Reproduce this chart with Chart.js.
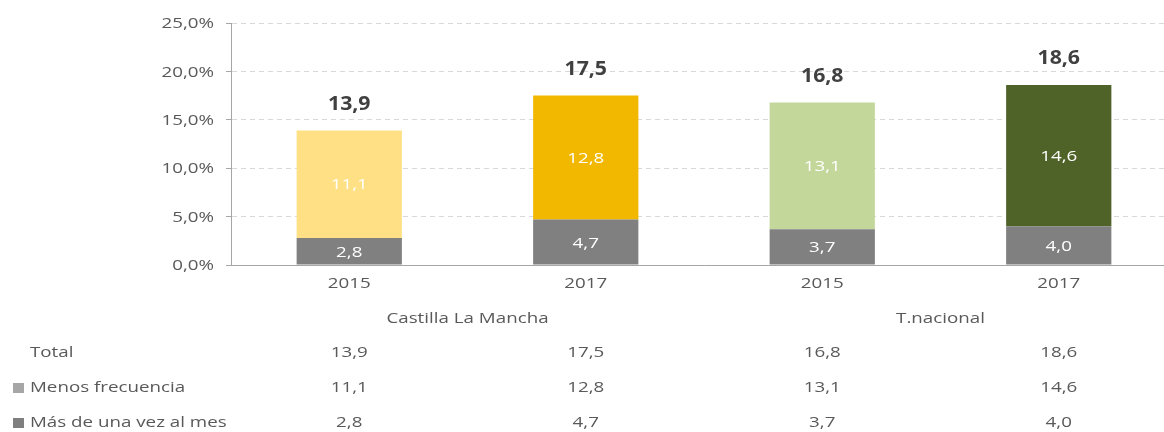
<!DOCTYPE html>
<html>
<head>
    <script src="https://cdn.jsdelivr.net/npm/chart.js@4/dist/chart.umd.min.js"></script>
    <style>
        body {
            margin: 0;
            background: #fff;
            overflow: hidden;
        }
        #wrap {
            width: 1180px;
            height: 432px;
        }
    </style>
</head>
<body>
    <div id="wrap"><canvas id="chart" width="1180" height="432"></canvas></div>

    <script>
        const years = ['2015', '2017', '2015', '2017'];
        const groups = ['Castilla La Mancha', 'T.nacional'];
        const total = [13.9, 17.5, 16.8, 18.6];
        const menosFrecuencia = [11.1, 12.8, 13.1, 14.6];
        const masDeUnaVez = [2.8, 4.7, 3.7, 4.0];
        const yTicks = [0, 5, 10, 15, 20, 25];

        const menosColors = ['#FFE085', '#F2B800', '#C4D79B', '#4F6228'];
        const grayColor = '#808080';
        const textColor = '#595959';
        const font = "'Open Sans', sans-serif";
        const stretch = 1.25;   // the reference text is wide and low

        const fmt = v => v.toFixed(1).replace('.', ',');

        // draw text stretched horizontally round its anchor
        function txt(ctx, s, x, y, align, sx) {
            ctx.save();
            ctx.translate(x, y);
            ctx.scale(sx, 1);
            ctx.textAlign = align;
            ctx.fillText(s, 0, 0);
            ctx.restore();
        }

        const labelsPlugin = {
            id: 'labels',
            afterDatasetsDraw(chart) {
                const ctx = chart.ctx;
                const x = chart.scales.x;
                const y = chart.scales.y;
                ctx.save();
                ctx.textBaseline = 'middle';

                // y tick labels
                ctx.font = '15px ' + font;
                ctx.fillStyle = textColor;
                yTicks.forEach(v => {
                    txt(ctx, fmt(v) + '%', x.left - 17, y.getPixelForValue(v) + 1, 'right', stretch);
                });

                // values inside segments
                ctx.fillStyle = '#fff';
                for (let i = 0; i < years.length; i++) {
                    const cx = x.getPixelForValue(i);
                    txt(ctx, fmt(masDeUnaVez[i]), cx, y.getPixelForValue(masDeUnaVez[i] / 2) + 1, 'center', stretch);
                    txt(ctx, fmt(menosFrecuencia[i]), cx, y.getPixelForValue(masDeUnaVez[i] + menosFrecuencia[i] / 2) + 1, 'center', stretch);
                }

                // totals on top
                ctx.font = 'bold 19px ' + font;
                ctx.fillStyle = '#404040';
                for (let i = 0; i < years.length; i++) {
                    txt(ctx, fmt(total[i]), x.getPixelForValue(i), y.getPixelForValue(total[i]) - 26, 'center', 1.12);
                }

                // year labels, group labels
                ctx.font = '15px ' + font;
                ctx.fillStyle = textColor;
                for (let i = 0; i < years.length; i++) {
                    txt(ctx, years[i], x.getPixelForValue(i), 284, 'center', stretch);
                }
                groups.forEach((g, k) => {
                    const mid = (x.getPixelForValue(k * 2) + x.getPixelForValue(k * 2 + 1)) / 2;
                    txt(ctx, g, mid, 319, 'center', stretch);
                });

                // data table
                const rows = [
                    { name: 'Total', values: total, box: null },
                    { name: 'Menos frecuencia', values: menosFrecuencia, box: '#A6A6A6' },
                    { name: 'Más de una vez al mes', values: masDeUnaVez, box: '#7F7F7F' }
                ];
                rows.forEach((r, k) => {
                    const ry = 353 + k * 35;
                    if (r.box) {
                        ctx.fillStyle = r.box;
                        ctx.fillRect(13, ry - 5, 11, 10);
                    }
                    ctx.fillStyle = textColor;
                    txt(ctx, r.name, 30, ry, 'left', stretch);
                    r.values.forEach((v, i) => {
                        txt(ctx, fmt(v), x.getPixelForValue(i), ry, 'center', stretch);
                    });
                });
                ctx.restore();
            }
        };

        new Chart(document.getElementById('chart'), {
            type: 'bar',
            data: {
                labels: years,
                datasets: [
                    {
                        label: 'Más de una vez al mes',
                        data: masDeUnaVez,
                        backgroundColor: grayColor
                    },
                    {
                        label: 'Menos frecuencia',
                        data: menosFrecuencia,
                        backgroundColor: menosColors
                    }
                ]
            },
            options: {
                responsive: false,
                animation: false,
                layout: {
                    padding: { left: 226, right: 3, top: 23, bottom: 159 }
                },
                plugins: {
                    legend: { display: false },
                    tooltip: { enabled: false }
                },
                datasets: {
                    bar: {
                        barPercentage: 0.445,
                        categoryPercentage: 1
                    }
                },
                scales: {
                    x: {
                        stacked: true,
                        grid: { display: false },
                        ticks: { display: false },
                        border: { color: '#A6A6A6', width: 1 }
                    },
                    y: {
                        stacked: true,
                        min: 0,
                        max: 25,
                        afterBuildTicks: axis => {
                            axis.ticks = yTicks.map(v => ({ value: v }));
                        },
                        ticks: { display: false },
                        grid: {
                            color: '#D9D9D9',
                            tickColor: '#A6A6A6',
                            tickLength: 5
                        },
                        border: { color: '#A6A6A6', width: 1, dash: [5, 4] }
                    }
                }
            },
            plugins: [labelsPlugin]
        });
    </script>
</body>
</html>
